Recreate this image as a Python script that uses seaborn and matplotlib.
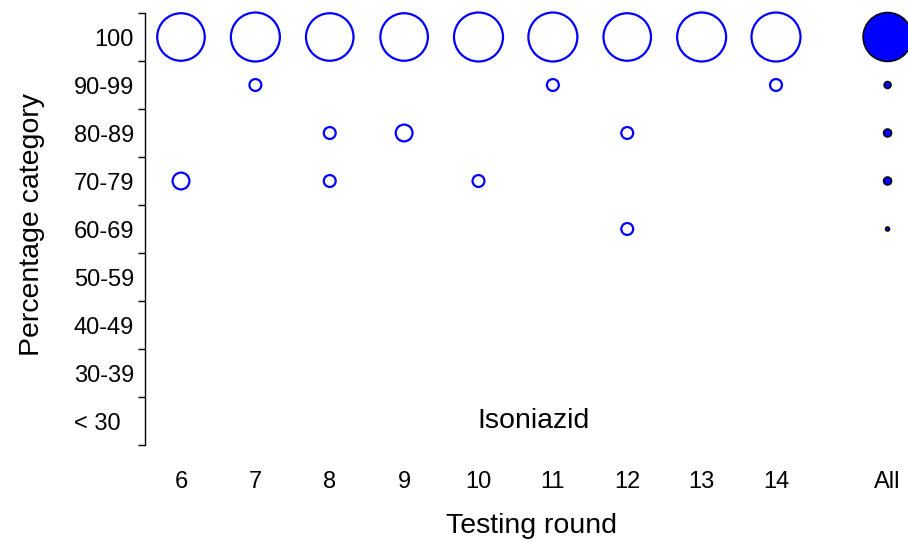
import numpy as np
import pandas as pd
import matplotlib
matplotlib.use("Agg")
import matplotlib.pyplot as plt
import seaborn as sns

# percentage categories, bottom to top
categories = ["< 30", "30-39", "40-49", "50-59", "60-69", "70-79", "80-89", "90-99", "100"]
# tick text as shown (the lowest one is padded in the original)
category_labels = ["< 30  "] + categories[1:]
rounds = [6, 7, 8, 9, 10, 11, 12, 13, 14]

# number of labs per round in each category (rows = category, only non-empty ones)
count_100 = [16, 17, 16, 16, 17, 17, 16, 18, 17]
count_90_99 = [0, 1, 0, 0, 0, 1, 0, 0, 1]
count_80_89 = [0, 0, 1, 2, 0, 0, 1, 0, 0]
count_70_79 = [2, 0, 1, 0, 1, 0, 0, 0, 0]
count_60_69 = [0, 0, 0, 0, 0, 0, 1, 0, 0]

rows = {"100": count_100, "90-99": count_90_99, "80-89": count_80_89,
        "70-79": count_70_79, "60-69": count_60_69}

recs = []
for cat, vals in rows.items():
    for r, v in zip(rounds, vals):
        if v > 0:
            recs.append({"round": r, "cat": categories.index(cat), "n": v})
df = pd.DataFrame(recs)

all_pos = 15.5
df_all = df.groupby("cat", as_index=False)["n"].sum()
df_all["round"] = all_pos

sns.set_style("white")
plt.rcParams["font.family"] = ["Liberation Sans", "DejaVu Sans"]
plt.rcParams["text.color"] = "black"
plt.rcParams["axes.labelcolor"] = "black"
plt.rcParams["xtick.color"] = "black"
plt.rcParams["ytick.color"] = "black"

W, H = 908, 541
fig = plt.figure(figsize=(W / 100, H / 100), dpi=100)
ax = fig.add_axes([145 / W, 1 - 445 / H, 763 / W, 432 / H])

max_s = 1244
sns.scatterplot(data=df, x="round", y="cat", size="n", size_norm=(0, 17),
                sizes=(0, max_s), legend=False, ax=ax, color="blue")
pts = ax.collections[-1]
pts.set_facecolor("none")
pts.set_edgecolor("#0000ff")
pts.set_linewidth(1.6)

sns.scatterplot(data=df_all, x="round", y="cat", size="n", size_norm=(0, 150),
                sizes=(0, max_s), legend=False, ax=ax, color="blue")
pts = ax.collections[-1]
pts.set_facecolor("#0000ff")
pts.set_edgecolor("black")
pts.set_linewidth(1.1)

unit = 595 / 8
x0 = 6 - 36 / unit
ax.set_xlim(x0, x0 + 763 / unit)
ax.set_ylim(-0.5, 8.5)

ax.set_yticks(range(len(categories)))
ax.set_yticklabels(category_labels)
ax.set_yticks(np.arange(-0.5, 9, 1), minor=True)
ax.tick_params(axis="y", which="major", length=0, pad=8, labelsize=17)
ax.tick_params(axis="y", which="minor", left=True, length=5, width=1,
               direction="out", color="black")

ax.set_xticks(rounds + [all_pos])
ax.set_xticklabels([str(r) for r in rounds] + ["All"])
ax.tick_params(axis="x", length=0, pad=19, labelsize=17)

for s in ["top", "right", "bottom"]:
    ax.spines[s].set_visible(False)
ax.spines["left"].set_color("black")
ax.spines["left"].set_linewidth(1)

ax.set_xlabel("Testing round", fontsize=20.5)
ax.set_ylabel("Percentage category", fontsize=20.5)
ax.xaxis.set_label_coords((532 - 145) / 763, (445 - 513) / 432)
ax.yaxis.set_label_coords((45 - 145) / 763, 0.51)

ax.text((533 - 145) / 763, (445 - 421) / 432, "Isoniazid", transform=ax.transAxes,
        ha="center", va="center", fontsize=20.5)

for c in ax.collections:
    c.set_clip_on(False)

fig.savefig("out.png", dpi=100)
